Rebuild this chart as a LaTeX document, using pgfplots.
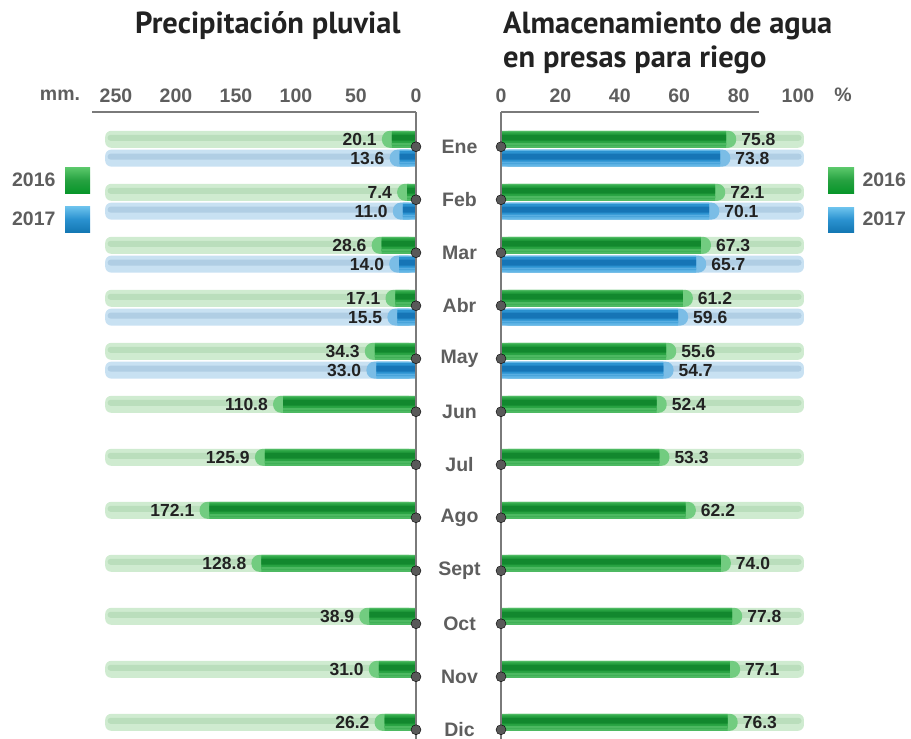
\documentclass[border=0pt]{standalone}
\usepackage{pgfplots}
\pgfplotsset{compat=1.18}
\usepackage{pgfplotstable}
\usepackage{fontspec}
\setmainfont{Liberation Sans}
\newfontfamily\titlefont{PT Sans}

\definecolor{gA}{HTML}{4DB962}
\definecolor{gB}{HTML}{27A241}
\definecolor{gC}{HTML}{12882E}
\definecolor{gD}{HTML}{4CB961}
\definecolor{bA}{HTML}{62B6E6}
\definecolor{bB}{HTML}{2B92D0}
\definecolor{bC}{HTML}{1675B6}
\definecolor{bD}{HTML}{58AEE2}
\definecolor{tgA}{HTML}{CFEBD0}
\definecolor{tgB}{HTML}{BADEBC}
\definecolor{tbA}{HTML}{C8E1F2}
\definecolor{tbB}{HTML}{B0CEE4}
\definecolor{gcap}{HTML}{72CC80}
\definecolor{bcap}{HTML}{7BBDE6}
\definecolor{gtop}{HTML}{5CC96C}
\definecolor{gbot}{HTML}{08962A}
\definecolor{btop}{HTML}{6EC4EE}
\definecolor{bbot}{HTML}{1478B4}
\definecolor{axgray}{HTML}{7A7A7A}
\definecolor{dotgray}{HTML}{595959}
\definecolor{txtgray}{HTML}{5E5E5E}
\definecolor{valtxt}{HTML}{222222}

% 2016: precipitation (mm) and storage (%), with track lengths
\pgfplotstableread{
m p16 s16 tp ts tp2 ts2
0 20.1 75.8 259 102 257 101.2
1 7.4 72.1 259 102 257 101.2
2 28.6 67.3 259 102 257 101.2
3 17.1 61.2 259 102 257 101.2
4 34.3 55.6 259 102 257 101.2
5 110.8 52.4 259 102 257 101.2
6 125.9 53.3 259 102 257 101.2
7 172.1 62.2 259 102 257 101.2
8 128.8 74.0 259 102 257 101.2
9 38.9 77.8 259 102 257 101.2
10 31.0 77.1 259 102 257 101.2
11 26.2 76.3 259 102 257 101.2
}\dataA
% 2017
\pgfplotstableread{
m p17 s17 tp ts tp2 ts2
0 13.6 73.8 259 102 257 101.2
1 11.0 70.1 259 102 257 101.2
2 14.0 65.7 259 102 257 101.2
3 15.5 59.6 259 102 257 101.2
4 33.0 54.7 259 102 257 101.2
}\dataB

\pgfplotsset{
  panel/.style={scale only axis, clip=false, y dir=reverse, ymin=-0.655, ymax=11.175,
    height=627pt, axis x line*=top, axis y line=none,
    x axis line style={draw=axgray, line width=2pt, -},
    major tick length=0pt, ytick=\empty,
    tick label style={font=\fontsize{19.5}{22}\selectfont\bfseries, text=txtgray},
    xticklabel style={yshift=6pt},
    /pgf/number format/assume math mode=true},
  valbar/.style={xbar, bar shift=0pt, draw=none},
  vlab/.style={draw=none, mark=none, point meta=x,
    nodes near coords={\pgfmathprintnumber[fixed,fixed zerofill,precision=1,assume math mode=true]{\pgfplotspointmeta}},
    nodes near coords style={font=\fontsize{17.5}{20}\selectfont\bfseries, text=valtxt, inner sep=1pt, #1}},
  dots/.style={only marks, mark=*, mark size=5pt, mark options={fill=dotgray, draw=none}},
}

% layered (tube-like) bar: #1 table, #2 x column, #3 y offset, #4-#7 colours
\newcommand{\tube}[7]{%
  \addplot[valbar, bar width=17pt, fill=#4] table[x=#2, y expr=\thisrow{m}+(#3)] {#1};
  \addplot[valbar, bar width=13pt, fill=#5] table[x=#2, y expr=\thisrow{m}+(#3)-0.0094] {#1};
  \addplot[valbar, bar width=6pt, fill=#6] table[x=#2, y expr=\thisrow{m}+(#3)-0.03] {#1};
  \addplot[valbar, bar width=2pt, fill=#7] table[x=#2, y expr=\thisrow{m}+(#3)+0.085] {#1};
}
% background track: #1 table, #2 x col, #3 stripe col, #4 y offset, #5 #6 colours
\newcommand{\track}[6]{%
  \addplot[valbar, bar width=17pt, fill=#5, rounded corners=6pt] table[x=#2, y expr=\thisrow{m}+(#4)] {#1};
  \addplot[valbar, bar width=6pt, fill=#6, rounded corners=3pt] table[x=#3, y expr=\thisrow{m}+(#4)-0.028] {#1};
}

\begin{document}
\begin{tikzpicture}
\path[use as bounding box] (0,0) rectangle (911pt,-739pt);

% ---------------- Left panel: precipitation ----------------
\begin{axis}[panel, at={(254pt,-425.5pt)}, anchor=center,
  width=324pt, x dir=reverse, xmin=0, xmax=270,
  xtick={0,50,100,150,200,250}]
  \track{\dataA}{tp}{tp2}{-0.14}{tgA}{tgB}
  \track{\dataB}{tp}{tp2}{0.215}{tbA}{tbB}
  \addplot[valbar, bar width=17pt, fill=gcap, rounded corners=8pt] table[x expr=\thisrow{p16}+8.3, y expr=\thisrow{m}-0.14] {\dataA};
  \addplot[valbar, bar width=17pt, fill=bcap, rounded corners=8pt] table[x expr=\thisrow{p17}+8.3, y expr=\thisrow{m}+0.215] {\dataB};
  \tube{\dataA}{p16}{-0.14}{gA}{gB}{gC}{gD}
  \tube{\dataB}{p17}{0.215}{bA}{bB}{bC}{bD}
  \draw[axgray, line width=2pt] (axis cs:0,-0.655) -- (axis cs:0,11.175);
  \addplot[dots] coordinates {(0,0) (0,1) (0,2) (0,3) (0,4) (0,5) (0,6) (0,7) (0,8) (0,9) (0,10) (0,11)};
  \addplot[vlab={anchor=east, xshift=-14pt}] table[x=p16, y expr=\thisrow{m}-0.14] {\dataA};
  \addplot[vlab={anchor=east, xshift=-14pt}] table[x=p17, y expr=\thisrow{m}+0.215] {\dataB};
\end{axis}

% ---------------- Right panel: storage ----------------
\begin{axis}[panel, at={(653.955pt,-425.5pt)}, anchor=center,
  width=305.91pt, xmin=0, xmax=103,
  x axis line style={draw=none},
  xtick={0,20,40,60,80,100}]
  \draw[axgray, line width=2pt] (axis cs:0,-0.655) -- (axis cs:86.87,-0.655);
  \track{\dataA}{ts}{ts2}{-0.14}{tgA}{tgB}
  \track{\dataB}{ts}{ts2}{0.215}{tbA}{tbB}
  \addplot[valbar, bar width=17pt, fill=gcap, rounded corners=8pt] table[x expr=\thisrow{s16}+3.4, y expr=\thisrow{m}-0.14] {\dataA};
  \addplot[valbar, bar width=17pt, fill=bcap, rounded corners=8pt] table[x expr=\thisrow{s17}+3.4, y expr=\thisrow{m}+0.215] {\dataB};
  \tube{\dataA}{s16}{-0.14}{gA}{gB}{gC}{gD}
  \tube{\dataB}{s17}{0.215}{bA}{bB}{bC}{bD}
  \draw[axgray, line width=2pt] (axis cs:0,-0.655) -- (axis cs:0,11.175);
  \addplot[dots] coordinates {(0,0) (0,1) (0,2) (0,3) (0,4) (0,5) (0,6) (0,7) (0,8) (0,9) (0,10) (0,11)};
  \addplot[vlab={anchor=west, xshift=14pt}] table[x=s16, y expr=\thisrow{m}-0.14] {\dataA};
  \addplot[vlab={anchor=west, xshift=14pt}] table[x=s17, y expr=\thisrow{m}+0.215] {\dataB};
\end{axis}

% ---------------- Month labels ----------------
\foreach \lab [count=\i from 0] in {Ene,Feb,Mar,Abr,May,Jun,Jul,Ago,Sept,Oct,Nov,Dic}{
  \node[font=\fontsize{19.5}{22}\selectfont\bfseries, text=txtgray] at (459.5pt,{-146.7pt-53pt*\i}) {\lab};
}

% ---------------- Titles & units ----------------
\node[anchor=base west, inner sep=0pt, font=\titlefont\bfseries\fontsize{30.5}{34}\selectfont, text=valtxt] at (135pt,-33pt) {Precipitación pluvial};
\node[anchor=base west, inner sep=0pt, font=\titlefont\bfseries\fontsize{30.5}{34}\selectfont, text=valtxt] at (503pt,-33pt) {Almacenamiento de agua};
\node[anchor=base west, inner sep=0pt, font=\titlefont\bfseries\fontsize{30.5}{34}\selectfont, text=valtxt] at (503pt,-67pt) {en presas para riego};
\node[font=\fontsize{19.5}{22}\selectfont\bfseries, text=txtgray] at (60pt,-95pt) {mm.};
\node[font=\fontsize{19.5}{22}\selectfont\bfseries, text=txtgray] at (843pt,-95pt) {\%};

% ---------------- Legends ----------------
\shade[top color=gtop, bottom color=gbot, middle color=gB] (65pt,-167pt) rectangle (90pt,-193pt);
\shade[top color=btop, bottom color=bbot, middle color=bB] (65pt,-206pt) rectangle (90pt,-232pt);
\node[anchor=east, font=\fontsize{19.5}{22}\selectfont\bfseries, text=txtgray] at (59pt,-180pt) {2016};
\node[anchor=east, font=\fontsize{19.5}{22}\selectfont\bfseries, text=txtgray] at (59pt,-219pt) {2017};
\shade[top color=gtop, bottom color=gbot, middle color=gB] (828pt,-167pt) rectangle (854pt,-193pt);
\shade[top color=btop, bottom color=bbot, middle color=bB] (828pt,-207pt) rectangle (854pt,-232pt);
\node[anchor=west, font=\fontsize{19.5}{22}\selectfont\bfseries, text=txtgray] at (859pt,-180pt) {2016};
\node[anchor=west, font=\fontsize{19.5}{22}\selectfont\bfseries, text=txtgray] at (859pt,-219pt) {2017};
\end{tikzpicture}
\end{document}
